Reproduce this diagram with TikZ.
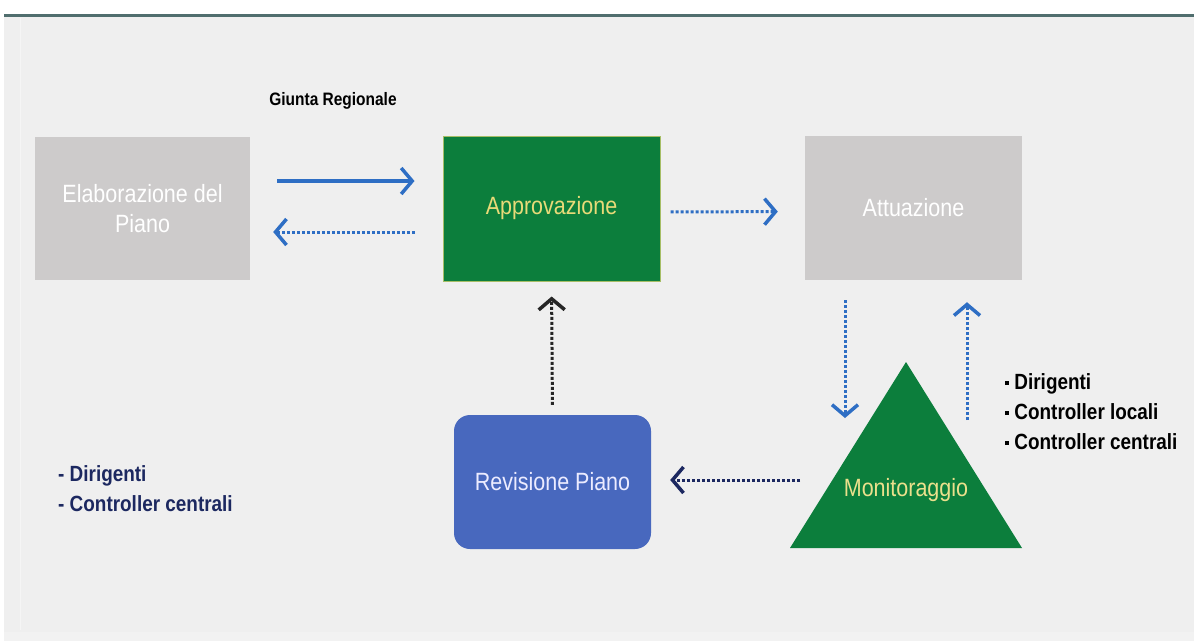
\documentclass[tikz,border=0pt]{standalone}
\usepackage{fontspec}
\setmainfont{Liberation Sans}[FakeStretch=0.86]
\usetikzlibrary{arrows.meta,calc}
\definecolor{bgc}{RGB}{239,239,239}
\definecolor{greyb}{RGB}{205,203,203}
\definecolor{greenb}{RGB}{12,126,60}
\definecolor{blueb}{RGB}{72,104,190}
\definecolor{arrb}{RGB}{46,110,196}
\definecolor{navy}{RGB}{28,40,96}
\definecolor{topline}{RGB}{80,110,110}
\definecolor{yeltxt}{RGB}{232,218,120}
\tikzset{
  box/.style={rectangle, inner sep=0pt, font=\fontsize{25}{30}\selectfont, align=center},
  greybox/.style={box, fill=greyb, text=white},
  arr/.style={line width=3.5pt, -{Straight Barb[length=11pt,width=26pt,line width=3.5pt]}},
  dotarr/.style={arr, line width=3pt, dash pattern=on 3pt off 2pt},
  lbl/.style={font=\bfseries\fontsize{22}{30}\selectfont, align=left, inner sep=0pt}
}
\begin{document}
\begin{tikzpicture}[x=1pt,y=-1pt]
\useasboundingbox (0,0) rectangle (1194,641);
\fill[white] (0,0) rectangle (1194,641);
\fill[bgc] (4,16) rectangle (1194,632);
\fill[bgc!80!white] (4,632) rectangle (1194,641);
\fill[topline] (4,14) rectangle (1194,16.5);
\draw[white!92!gray, line width=1pt] (20,18) -- (20,630);

\node[greybox, minimum width=215pt, minimum height=143pt] (el) at (142.5,208.5) {Elaborazione del\\Piano};
\node[box, fill=greenb, draw=yeltxt!70!greenb, line width=1pt, text=yeltxt, minimum width=217pt, minimum height=145pt] (ap) at (551.5,208.5) {Approvazione};
\node[greybox, minimum width=217pt, minimum height=144pt] (at) at (913.5,208) {Attuazione};
\node[box, fill=blueb, rounded corners=16pt, text=white!92!blue, minimum width=197pt, minimum height=134pt] (rev) at (552.5,482) {Revisione Piano};

\fill[greenb] (906,362) -- (1022,548) -- (790,548) -- cycle;
\node[box, text=yeltxt!85!white] (mon) at (906,490) {Monitoraggio};
\coordinate (monL) at (845,418);
\coordinate (monR) at (967,420);
\coordinate (monW) at (800,480);

\node[font=\bfseries\fontsize{18}{22}\selectfont, inner sep=0pt] (giunta) at (333,101) {Giunta Regionale};

\draw[arr, arrb, shorten <=27pt, shorten >=28pt] ([yshift=27.5pt]el.east) -- ([yshift=27.5pt]ap.west);
\draw[dotarr, arrb, shorten <=28pt, shorten >=23pt] ([yshift=-23.5pt]ap.west) -- ([yshift=-23.5pt]el.east);
\draw[dotarr, arrb, shorten <=10pt, shorten >=27pt] ([yshift=-3.5pt]ap.east) -- ([yshift=-3.5pt]at.west);
\draw[dotarr, black!85, shorten <=10pt, shorten >=15pt] (rev.north) -- (ap.south);
\draw[dotarr, arrb, shorten <=20pt] (at.south -| monL) -- (monL);
\draw[dotarr, arrb, shorten >=22pt] (monR) -- (at.south -| monR);
\draw[dotarr, navy, shorten >=19pt] (monW) -- (rev.east |- monW);

\node[lbl, text=navy, anchor=west] (left) at (58,489) {- Dirigenti\\- Controller centrali};
\node[lbl, text=black, anchor=west] (right) at (1005,412) {\raisebox{5pt}{\rule{4pt}{4pt}} Dirigenti\\\raisebox{5pt}{\rule{4pt}{4pt}} Controller locali\\\raisebox{5pt}{\rule{4pt}{4pt}} Controller centrali};
\end{tikzpicture}
\end{document}
